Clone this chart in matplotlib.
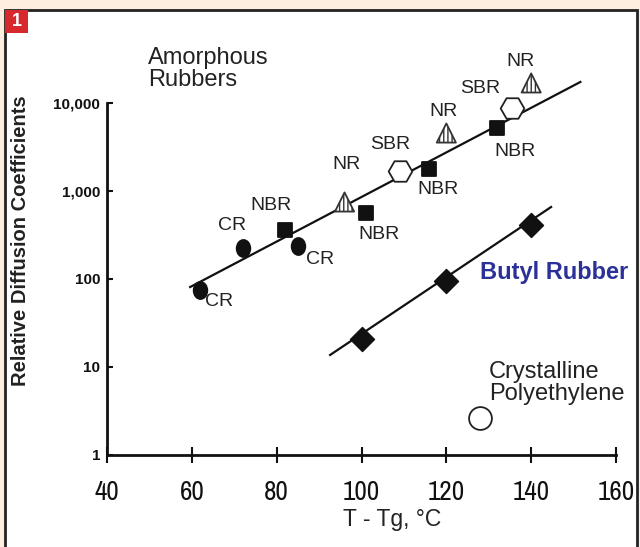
import matplotlib
matplotlib.use("Agg")
import matplotlib.pyplot as plt
from matplotlib.patches import Rectangle
from matplotlib.markers import MarkerStyle
from matplotlib.transforms import Affine2D
from matplotlib import font_manager
from matplotlib.font_manager import FontProperties

# ---------------- data ----------------
amorph_x = [62, 72, 82, 85, 96, 101, 109, 116, 120, 132, 135.5, 140]
amorph_y = [75, 225, 360, 237, 750, 562, 1690, 1780, 4560, 5200, 8750, 16900]
amorph_names = ['CR', 'CR', 'NBR', 'CR', 'NR', 'NBR', 'SBR', 'NBR', 'NR', 'NBR', 'SBR', 'NR']
amorph_fit_x = [59.6, 151.6]
amorph_fit_y = [81, 17340]

butyl_x = [100, 120, 140]
butyl_y = [21, 95, 410]
butyl_fit_x = [92.6, 144.7]
butyl_fit_y = [13.7, 658]

pe_x = [128]
pe_y = [2.6]

xticks = [40, 60, 80, 100, 120, 140, 160]
yticks = [1, 10, 100, 1000, 10000]
ytick_labels = ['1', '10', '100', '1,000', '10,000']

# ---------------- styling ----------------
W, H = 640, 547
fig = plt.figure(figsize=(W / 100, H / 100), dpi=100)
fig.patch.set_facecolor('#fdeedf')
SANS = ['Liberation Sans', 'DejaVu Sans']
plt.rcParams['font.family'] = SANS

# pick a condensed font for the x tick labels if one is installed
cands = []
for f in font_manager.fontManager.ttflist:
    nm = f.name.lower()
    fn = f.fname.lower()
    if f.weight not in (400, 'normal', 'regular') or f.style != 'normal':
        continue
    if 'narrow' in nm or 'narrow' in fn:
        cands.append((0, f.fname))
    elif 'condensed' in nm or 'condensed' in fn or str(f.stretch) in ('condensed', 'semi-condensed'):
        if 'semi' in fn or 'semi' in nm:
            continue
        pri = 1 if 'liberation' in fn else 2 if 'roboto' in fn else 3 if 'dejavusans' in fn and 'mono' not in fn else 4
        cands.append((pri, f.fname))
cands.sort()
if cands:
    cond_fp = FontProperties(fname=cands[0][1], size=19.5)
else:
    cond_fp = FontProperties(family='Liberation Sans', size=17)

# white panel with border
fig.patches.append(Rectangle((5 / W, -0.01), 632 / W, 1 - 10 / H + 0.01, transform=fig.transFigure,
                             facecolor='white', edgecolor='#222222', lw=2, zorder=-10))
fig.patches.append(Rectangle((5 / W, 1 - 33 / H), 23 / W, 23 / H, transform=fig.transFigure,
                             facecolor='#d7282e', edgecolor='none', zorder=-5))
fig.text(16.5 / W, 1 - 21.5 / H, '1', color='white', fontsize=13, fontweight='bold',
         ha='center', va='center', family=SANS)

ax = fig.add_axes([107 / W, 1 - 455 / H, (616 - 107) / W, (455 - 103) / H])
ax.set_facecolor('none')
ax.set_yscale('log')
ax.set_xlim(40, 160)
ax.set_ylim(1, 10000)
for s in ['top', 'right']:
    ax.spines[s].set_visible(False)
for s in ['left', 'bottom']:
    ax.spines[s].set_linewidth(2)
    ax.spines[s].set_color('#111111')

ax.set_xticks(xticks)
ax.set_xticklabels([str(v) for v in xticks], fontproperties=cond_fp)
ax.set_yticks(yticks)
ax.set_yticklabels(ytick_labels, fontsize=11, fontweight='bold')
ax.yaxis.set_minor_locator(matplotlib.ticker.NullLocator())
ax.tick_params(axis='x', direction='inout', length=12, width=1.5, pad=12, colors='#111111')
ax.tick_params(axis='y', direction='in', length=4, width=1.5, pad=5, colors='#111111')

ax.set_xlabel('T - Tg, °C', fontsize=16.5, color='#222222')
ax.xaxis.set_label_coords((392 - 107) / 509, (455 - 508) / 352)
ax.set_ylabel('Relative Diffusion Coefficients', fontsize=14.5, fontweight='bold', color='#222222')
ax.yaxis.set_label_coords((30 - 107) / 509, (455 - 241) / 352)

# fit lines
ax.plot(amorph_fit_x, amorph_fit_y, color='#111111', lw=1.6, zorder=2, clip_on=False)
ax.plot(butyl_fit_x, butyl_fit_y, color='#111111', lw=1.6, zorder=2, clip_on=False)

# amorphous markers
ell = MarkerStyle('o', transform=Affine2D().scale(0.8, 1.0))
styles = {
    'CR': dict(marker=ell, s=150, facecolor='#111111', edgecolor='#111111', hatch=None),
    'NBR': dict(marker='s', s=115, facecolor='#111111', edgecolor='#111111', hatch=None),
    'NR': dict(marker='^', s=190, facecolor='white', edgecolor='#333333', hatch='||||'),
    'SBR': dict(marker='H', s=290, facecolor='white', edgecolor='#222222', hatch=None),
}
for name, st in styles.items():
    xs = [x for x, n in zip(amorph_x, amorph_names) if n == name]
    ys = [y for y, n in zip(amorph_y, amorph_names) if n == name]
    ax.scatter(xs, ys, marker=st['marker'], s=st['s'], facecolor=st['facecolor'],
               edgecolor=st['edgecolor'], hatch=st['hatch'], linewidths=1.3, zorder=3, clip_on=False)

ax.scatter(butyl_x, butyl_y, marker='D', s=150, color='#111111', zorder=3)
ax.scatter(pe_x, pe_y, marker='o', s=270, facecolor='white', edgecolor='#222222', linewidths=1.3, zorder=3)

# point labels (pixel offsets from marker)
label_offsets = [(19, -12), (-11, 23), (-14, 25), (22, -13), (2, 37), (13, -21),
                 (-9, 26), (9, -21), (-3, 22), (18, -24), (-32, 20), (-11, 21)]
for x, y, n, off in zip(amorph_x, amorph_y, amorph_names, label_offsets):
    ax.annotate(n, (x, y), xytext=off, textcoords='offset pixels', ha='center', va='center',
                fontsize=14, color='#222222', annotation_clip=False)

fig.text(148 / W, 1 - 69 / H, 'Amorphous\nRubbers', fontsize=17, color='#222222',
         ha='left', va='center', linespacing=0.97)
fig.text(480 / W, 1 - 272 / H, 'Butyl Rubber', fontsize=17, fontweight='bold', color='#2b3199',
         ha='left', va='center')
fig.text(489 / W, 1 - 383 / H, 'Crystalline\nPolyethylene', fontsize=17, color='#222222',
         ha='left', va='center', linespacing=0.95)

fig.savefig('out.png', dpi=100, facecolor=fig.get_facecolor())
